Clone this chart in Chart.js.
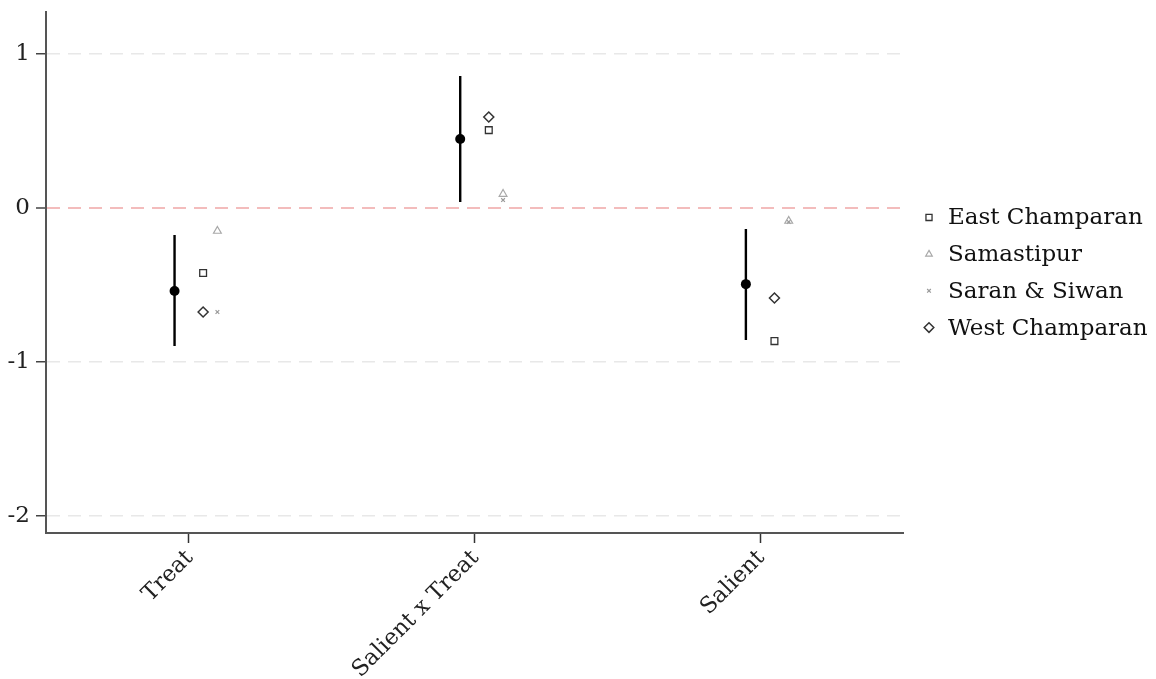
<!DOCTYPE html>
<html><head><meta charset="utf-8">
<script src="https://cdn.jsdelivr.net/npm/chart.js@4.4.0/dist/chart.umd.min.js"></script>
<style>html,body{margin:0;padding:0;background:#fff;}#wrap{width:1156px;height:679px;}</style>
</head><body><div id="wrap"><canvas id="c" width="1156" height="679"></canvas></div>
<script>
const categories = ['Treat', 'Salient x Treat', 'Salient'];
const estimate = [-0.539, 0.448, -0.494];
const ciLow = [-0.896, 0.039, -0.857];
const ciHigh = [-0.175, 0.857, -0.136];
const eastChamparan = [-0.422, 0.506, -0.864];
const samastipur = [-0.149, 0.091, -0.084];
const saranSiwan = [-0.675, 0.052, -0.090];
const westChamparan = [-0.675, 0.591, -0.584];
const yTickValues = [-2, -1, 0, 1];

const SERIF = '"DejaVu Serif", "Liberation Serif", serif';

function pts(vals, off) { return vals.map((v, i) => ({x: i + 1 + off, y: v})); }
const ciData = [];
categories.forEach((c, i) => {
  ciData.push({x: i + 1 - 0.05, y: ciHigh[i]}, {x: i + 1 - 0.05, y: ciLow[i]}, {x: i + 1 - 0.05, y: null});
});

const legendPlugin = {
  id: 'sideLegend',
  afterDraw(chart) {
    const ctx = chart.ctx, area = chart.chartArea;
    const items = chart.data.datasets.filter(d => d.inLegend);
    const gap = 36.7;
    const cy = (area.top + area.bottom) / 2;
    const y0 = cy - gap * (items.length - 1) / 2;
    ctx.save();
    items.forEach((d, i) => {
      const y = y0 + i * gap;
      ctx.strokeStyle = d.borderColor;
      ctx.fillStyle = d.backgroundColor;
      ctx.lineWidth = d.borderWidth;
      Chart.helpers.drawPoint(ctx, {pointStyle: d.pointStyle, radius: d.legendRadius, rotation: 0, borderWidth: d.borderWidth}, area.right + 26, y);
      ctx.fillStyle = '#111';
      ctx.font = '23px ' + SERIF;
      ctx.textBaseline = 'middle';
      ctx.textAlign = 'left';
      ctx.fillText(d.label, area.right + 45, y + 1);
    });
    ctx.restore();
  }
};

new Chart(document.getElementById('c'), {
  type: 'scatter',
  data: {
    datasets: [
      {label: 'Estimate', data: pts(estimate, -0.05), pointStyle: 'circle', pointRadius: 5, backgroundColor: '#000', borderColor: '#000', borderWidth: 0, order: 0},
      {label: 'CI', type: 'line', data: ciData, showLine: true, spanGaps: false, borderColor: '#000', borderWidth: 2.4, pointRadius: 0, fill: false, order: 1},
      {label: 'East Champaran', inLegend: true, data: pts(eastChamparan, 0.05), pointStyle: 'rect', pointRadius: 4.8, legendRadius: 4.3, backgroundColor: 'rgba(255,255,255,0)', borderColor: '#333', borderWidth: 1.3, order: 2},
      {label: 'Samastipur', inLegend: true, data: pts(samastipur, 0.10), pointStyle: 'triangle', pointRadius: 4.5, legendRadius: 3.8, backgroundColor: 'rgba(255,255,255,0)', borderColor: '#a8a8a8', borderWidth: 1.2, order: 3},
      {label: 'Saran & Siwan', inLegend: true, data: pts(saranSiwan, 0.10), pointStyle: 'crossRot', pointRadius: 2.6, legendRadius: 2.6, backgroundColor: 'rgba(255,255,255,0)', borderColor: '#999', borderWidth: 1.2, order: 4},
      {label: 'West Champaran', inLegend: true, data: pts(westChamparan, 0.05), pointStyle: 'rectRot', pointRadius: 5, legendRadius: 4.8, backgroundColor: 'rgba(255,255,255,0)', borderColor: '#333', borderWidth: 1.5, order: 5}
    ]
  },
  options: {
    responsive: false,
    animation: false,
    devicePixelRatio: 1,
    layout: {padding: {top: 12, right: 253, bottom: 0, left: 0}},
    plugins: {legend: {display: false}, tooltip: {enabled: false}},
    scales: {
      x: {
        type: 'linear', min: 0.5, max: 3.5,
        afterBuildTicks: s => { s.ticks = categories.map((c, i) => ({value: i + 1})); },
        afterFit: s => { s.height = 146; s.paddingLeft = 0; s.paddingRight = 0; },
        grid: {drawOnChartArea: false, drawTicks: true, tickLength: 10, tickColor: '#333', tickWidth: 1.5},
        border: {display: true, color: '#555', width: 2},
        ticks: {autoSkip: false, minRotation: 45, maxRotation: 45, padding: 2, labelOffset: 1, color: '#222',
          font: {family: SERIF, size: 22.5},
          callback: v => categories[Math.round(v) - 1] || ''}
      },
      y: {
        min: -2.11, max: 1.273,
        afterBuildTicks: s => { s.ticks = yTickValues.map(v => ({value: v})); },
        afterFit: s => { s.width = 46; s.paddingTop = 0; s.paddingBottom = 0; },
        grid: {
          color: c => (c.tick && c.tick.value === 0) ? '#f3bcbc' : '#e8e8e8',
          lineWidth: c => (c.tick && c.tick.value === 0) ? 2 : 1.5,
          drawTicks: true, tickLength: 10, tickColor: '#444', tickWidth: 1.5, tickBorderDash: []
        },
        border: {display: true, color: '#555', width: 2, dash: [13, 8]},
        ticks: {padding: 6, color: '#222', font: {family: SERIF, size: 23}, callback: v => String(v)}
      }
    }
  },
  plugins: [legendPlugin]
});
</script>
</body></html>
